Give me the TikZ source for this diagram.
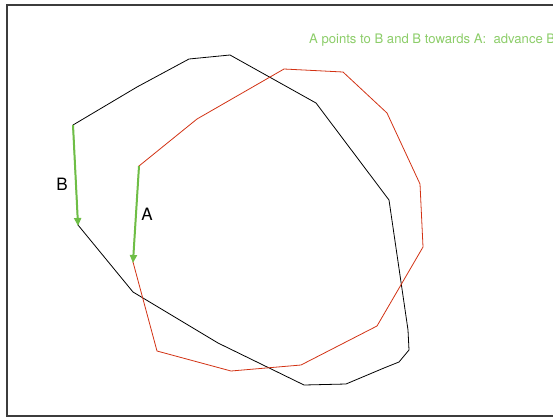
\documentclass[tikz,border=0pt]{standalone}
\usepackage{fontspec}
\setmainfont{TeX Gyre Heros}
\usetikzlibrary{arrows.meta}
\definecolor{grn}{RGB}{110,190,70}
\definecolor{grntxt}{RGB}{140,205,105}
\definecolor{redl}{RGB}{210,50,20}
\definecolor{frame}{RGB}{60,60,60}
\tikzset{
  poly/.style={line width=0.8pt, line join=miter},
  garrow/.style={grn, line width=2pt, -{Triangle[length=8pt,width=7pt]}, shorten >=-1pt},
  lbl/.style={font=\fontsize{17}{17}\selectfont, inner sep=0pt}
}
\begin{document}
\begin{tikzpicture}[x=1pt,y=-1pt]
\useasboundingbox (0,0) rectangle (553,418);
\clip (0,0) rectangle (553,418);
\draw[frame, line width=1.3pt] (7,5) rectangle (570,416);
% black polygon
\coordinate (b1) at (73,125);
\coordinate (b2) at (78,225);
\draw[poly, black] (b1) -- (137,87) -- (189,59) -- (230,55) -- (316,103) -- (389,200)
  -- (408,330) -- (409,350) -- (399,362) -- (384,368) -- (346,384) -- (304,385)
  -- (218,343) -- (133,292) -- (b2) -- cycle;
% red polygon
\coordinate (a1) at (139,166);
\coordinate (a2) at (133,262);
\draw[poly, redl] (a1) -- (197,119) -- (284,69) -- (343,72) -- (387,113) -- (420,184)
  -- (423,247) -- (377,326) -- (301,365) -- (231,371) -- (157,351) -- (a2) -- cycle;
% arrows
\draw[garrow] (b1) -- (b2);
\draw[garrow] (a1) -- (a2);
\node[lbl] (lb) at (62,184) {B};
\node[lbl] (la) at (147,214) {A};
\node[anchor=west, inner sep=0pt, text=grntxt, font=\fontsize{13.1}{14}\selectfont] (cap) at (309,40)
  {A points to B and B towards A:\ \ advance B};
\end{tikzpicture}
\end{document}
